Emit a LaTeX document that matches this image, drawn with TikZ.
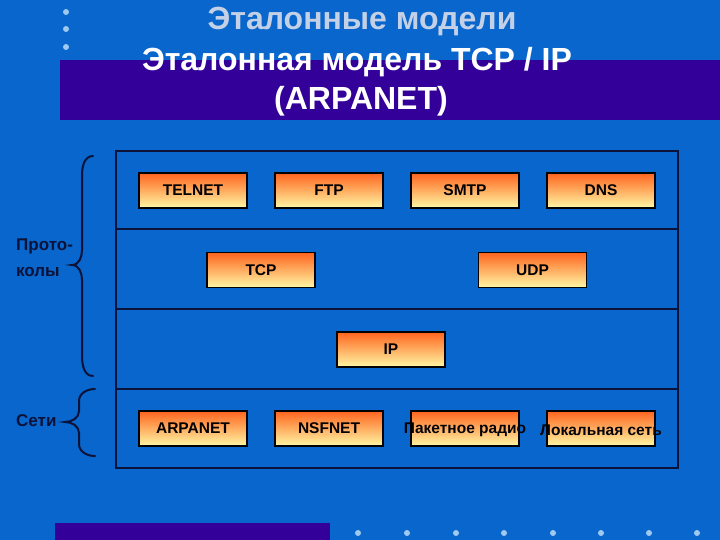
\documentclass[tikz,border=0pt]{standalone}
\usepackage{fontspec}
\setmainfont{Liberation Sans}
\definecolor{bg}{RGB}{8,102,204}
\definecolor{band}{RGB}{51,0,153}
\definecolor{navy}{RGB}{12,18,56}
\definecolor{ttl}{RGB}{196,208,230}
\definecolor{dotc}{RGB}{160,200,240}
\definecolor{boxtop}{RGB}{255,100,30}
\definecolor{boxbot}{RGB}{255,248,165}
\tikzset{
  proto/.style={draw=black, line width=1.6pt, top color=boxtop, bottom color=boxbot,
    minimum width=108pt, minimum height=35pt, inner sep=0pt,
    font=\bfseries\fontsize{15.5}{18}\selectfont, text=black},
  boxonly/.style={draw=black, line width=1.6pt, top color=boxtop, bottom color=boxbot,
    minimum width=108pt, minimum height=35pt, inner sep=0pt},
  boxtext/.style={font=\bfseries\fontsize{15.5}{18}\selectfont, text=black!85!navy, inner sep=0pt},
  frame/.style={draw=navy, line width=1.6pt},
  brace/.style={draw=navy, line width=2pt, line cap=round},
  side/.style={font=\bfseries\fontsize{17}{26}\selectfont, text=navy, inner sep=0pt, align=left},
  dot/.style={fill=dotc, draw=none},
  ttlfont/.style={font=\bfseries\fontsize{32}{34}\selectfont, inner sep=0pt}
}
\begin{document}
\begin{tikzpicture}[x=1pt,y=-1pt]
\useasboundingbox (0,0) rectangle (720,540);
\fill[bg] (0,0) rectangle (720,540);
% title band
\fill[band] (60,60) rectangle (720,120);
\fill[band] (55,523) rectangle (330,540);
% dots
\foreach \yy in {12,29,47} \fill[dot] (66,\yy) circle (3);
\foreach \xx in {358,407,456,504,553,601,649,697} \fill[dot] (\xx,533) circle (3);
% titles
\node[ttlfont, text=ttl] (title1) at (362,22) {Эталонные модели};
\node[ttlfont, text=white] (title2) at (357,62) {Эталонная модель TCP / IP};
\node[ttlfont, text=white] (title3) at (361,101) {(ARPANET)};
% frame
\draw[frame] (116,151) rectangle (678,468);
\draw[frame] (116,229) -- (678,229);
\draw[frame] (116,309) -- (678,309);
\draw[frame] (116,389) -- (678,389);
% application layer
\node[proto] (telnet) at (193,190.5) {TELNET};
\node[proto] (ftp) at (329,190.5) {FTP};
\node[proto] (smtp) at (465,190.5) {SMTP};
\node[proto] (dns) at (601,190.5) {DNS};
% transport
\node[proto] (tcp) at (261,270) {TCP};
\node[proto] (udp) at (532.5,270) {UDP};
% internet
\node[proto] (ip) at (391,349.5) {IP};
% networks
\node[proto] (arpanet) at (193,428.5) {ARPANET};
\node[proto] (nsfnet) at (329,428.5) {NSFNET};
\node[boxonly] (radiobox) at (465,428.5) {};
\node[boxonly] (lanbox) at (601,428.5) {};
\node[boxtext] (radio) at (465,430) {Пакетное радио};
\node[boxtext] (lan) at (601,430) {Локальная сеть};
% braces
\draw[brace] (93,156) to[out=180,in=90] (82,175) -- (82,250) to[out=-90,in=0] (72,265)
  to[out=0,in=90] (82,280) -- (82,356) to[out=-90,in=180] (93,376);
\draw[brace] (95,389) to[out=180,in=90] (79,401) -- (79,411) to[out=-90,in=0] (65,422)
  to[out=0,in=90] (79,433) -- (79,444) to[out=-90,in=180] (95,456);
\node[side, anchor=west] (lblproto) at (16,258) {Прото-\\колы};
\node[side, anchor=west] (lblnet) at (16,421) {Сети};
\end{tikzpicture}
\end{document}
